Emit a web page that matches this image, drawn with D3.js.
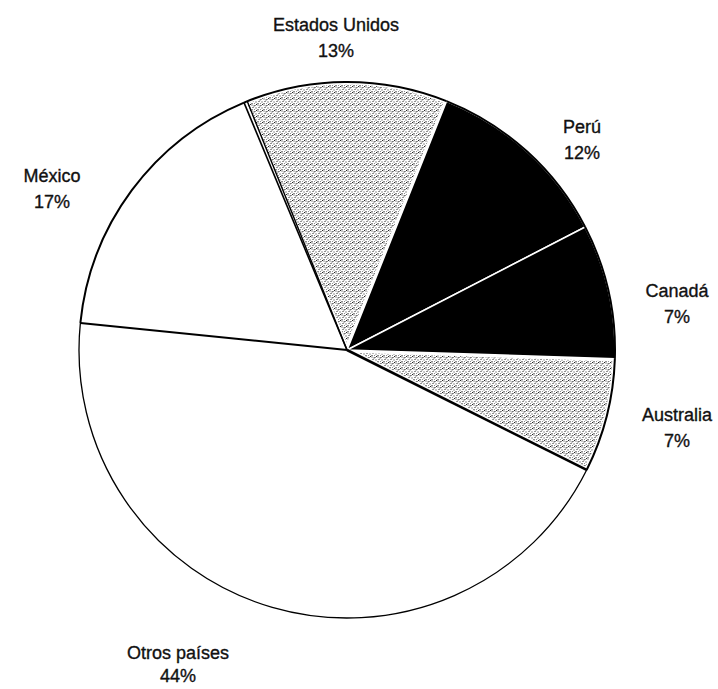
<!DOCTYPE html>
<html>
<head>
<meta charset="utf-8">
<script src="https://cdn.jsdelivr.net/npm/d3@7"></script>
<style>
  html, body { margin: 0; padding: 0; background: #fff; }
  svg { display: block; }
  text { font-family: "Liberation Sans", Arial, sans-serif; font-size: 18px; fill: #111; stroke: #111; stroke-width: 0.35px; }
</style>
</head>
<body>
<svg id="chart" width="718" height="689"></svg>
<script>
// ---- data ----
const countries = ["Estados Unidos", "Perú", "Canadá", "Australia", "Otros países", "México"];
const percentLabels = ["13%", "12%", "7%", "7%", "44%", "17%"];
// slice sizes as drawn in the picture (share of the circle, %)
const shares = [12.33, 11.36, 8.11, 6.86, 44.22, 17.11];
const fills = ["stipple", "black", "black", "stipple", "white", "white"];
// label anchor (x, baseline of first line) per slice
const labelPos = [[336, 31], [582, 133], [677, 297], [677, 421], [178, 659], [52, 182]];
const lineGap = [26, 26, 26, 26, 23, 26];

const svg = d3.select("#chart");
const cx = 347, cy = 350, r = 268;
const startDeg = -22.6;

// stipple pattern
const defs = svg.append("defs");
const pat = defs.append("pattern").attr("id", "stipple")
  .attr("patternUnits", "userSpaceOnUse").attr("width", 6).attr("height", 6);
pat.append("rect").attr("width", 6).attr("height", 6).attr("fill", "#fff");
[[0.5,0.5],[3.5,1],[1.5,3],[4.5,3.5],[0.5,5],[3,5.5],[2.5,1.5],[5,0]].forEach(([x, y]) =>
  pat.append("rect").attr("x", x).attr("y", y).attr("width", 1).attr("height", 1).attr("fill", "#222"));

const pie = d3.pie().sort(null).value(d => d)
  .startAngle(startDeg * Math.PI / 180)
  .endAngle(startDeg * Math.PI / 180 + 2 * Math.PI);
const arcs = pie(shares);
const arc = d3.arc().innerRadius(0).outerRadius(r);
const rim = d3.arc().innerRadius(r).outerRadius(r);

const g = svg.append("g").attr("transform", `translate(${cx},${cy})`);

const fillOf = f => f === "stipple" ? "url(#stipple)" : (f === "black" ? "#000" : "#fff");

// fills
g.selectAll("path.slice").data(arcs).join("path")
  .attr("class", "slice")
  .attr("d", arc)
  .attr("fill", (d, i) => fillOf(fills[i]))
  .attr("stroke", (d, i) => fills[i] === "stipple" ? "#fff" : "none")
  .attr("stroke-width", 5)
  .attr("stroke-linejoin", "round");

// black slices on top, separated by thin white line
g.selectAll("path.dark").data(arcs.filter((d, i) => fills[i] === "black")).join("path")
  .attr("class", "dark")
  .attr("d", arc)
  .attr("fill", "#000")
  .attr("stroke", "#fff")
  .attr("stroke-width", 1.6);

// outer rim
g.selectAll("path.rim").data(arcs).join("path")
  .attr("class", "rim")
  .attr("d", rim)
  .attr("fill", "none")
  .attr("stroke", "#000")
  .attr("stroke-width", (d, i) => countries[i] === "Otros países" ? 1.3 : 2);

// radial boundary lines
const pt = (a, rad) => [Math.sin(a) * rad, -Math.cos(a) * rad];
const radial = (a, w) => {
  const p = pt(a, r);
  g.append("line").attr("x1", 0).attr("y1", 0).attr("x2", p[0]).attr("y2", p[1])
    .attr("stroke", "#000").attr("stroke-width", w);
};
const idx = name => countries.indexOf(name);
// México | Estados Unidos (double line)
radial(arcs[idx("Estados Unidos")].startAngle, 1.6);
radial(arcs[idx("Estados Unidos")].startAngle + 0.013, 1.4);
// Otros | México
radial(arcs[idx("México")].startAngle, 2);
// Australia | Otros
radial(arcs[idx("Otros países")].startAngle, 2.6);

// labels
const labels = svg.append("g");
countries.forEach((c, i) => {
  const [x, y] = labelPos[i];
  const t = labels.append("text").attr("x", x).attr("y", y).attr("text-anchor", "middle");
  t.append("tspan").attr("x", x).attr("y", y).text(c);
  t.append("tspan").attr("x", x).attr("y", y + lineGap[i]).text(percentLabels[i]);
});
</script>
</body>
</html>
